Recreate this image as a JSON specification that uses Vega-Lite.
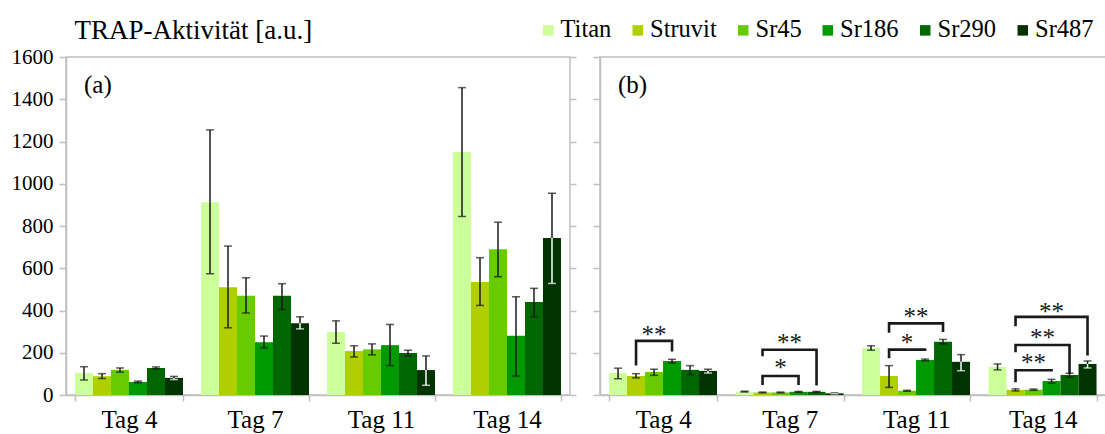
{
  "$schema": "https://vega.github.io/schema/vega-lite/v6.json",
  "padding": {"left": 10, "top": 15, "right": 0, "bottom": 0},
  "spacing": 30,
  "bounds": "flush",
  "background": "white",
  "datasets": {
    "barsA": [
      {"tag": "Tag 4", "series": "Titan", "value": 104, "lo": 71, "hi": 134},
      {"tag": "Tag 4", "series": "Struvit", "value": 89, "lo": 78, "hi": 101},
      {"tag": "Tag 4", "series": "Sr45", "value": 119, "lo": 108, "hi": 128},
      {"tag": "Tag 4", "series": "Sr186", "value": 62, "lo": 58, "hi": 66},
      {"tag": "Tag 4", "series": "Sr290", "value": 128, "lo": 123, "hi": 133},
      {"tag": "Tag 4", "series": "Sr487", "value": 81, "lo": 73, "hi": 88},
      {"tag": "Tag 7", "series": "Titan", "value": 912, "lo": 574, "hi": 1255},
      {"tag": "Tag 7", "series": "Struvit", "value": 510, "lo": 318, "hi": 705},
      {"tag": "Tag 7", "series": "Sr45", "value": 470, "lo": 388, "hi": 555},
      {"tag": "Tag 7", "series": "Sr186", "value": 250, "lo": 223, "hi": 279},
      {"tag": "Tag 7", "series": "Sr290", "value": 470, "lo": 405, "hi": 527},
      {"tag": "Tag 7", "series": "Sr487", "value": 340, "lo": 313, "hi": 370},
      {"tag": "Tag 11", "series": "Titan", "value": 298, "lo": 245, "hi": 351},
      {"tag": "Tag 11", "series": "Struvit", "value": 208, "lo": 180, "hi": 233},
      {"tag": "Tag 11", "series": "Sr45", "value": 216, "lo": 190, "hi": 242},
      {"tag": "Tag 11", "series": "Sr186", "value": 236, "lo": 139, "hi": 334},
      {"tag": "Tag 11", "series": "Sr290", "value": 199, "lo": 185, "hi": 212},
      {"tag": "Tag 11", "series": "Sr487", "value": 118, "lo": 46, "hi": 185},
      {"tag": "Tag 14", "series": "Titan", "value": 1150, "lo": 845, "hi": 1455},
      {"tag": "Tag 14", "series": "Struvit", "value": 535, "lo": 424, "hi": 650},
      {"tag": "Tag 14", "series": "Sr45", "value": 690, "lo": 560, "hi": 818},
      {"tag": "Tag 14", "series": "Sr186", "value": 280, "lo": 90, "hi": 465},
      {"tag": "Tag 14", "series": "Sr290", "value": 440, "lo": 370, "hi": 505},
      {"tag": "Tag 14", "series": "Sr487", "value": 743, "lo": 528, "hi": 955}
    ],
    "barsB": [
      {"tag": "Tag 4", "series": "Titan", "value": 104, "lo": 77, "hi": 127},
      {"tag": "Tag 4", "series": "Struvit", "value": 90, "lo": 81, "hi": 101},
      {"tag": "Tag 4", "series": "Sr45", "value": 109, "lo": 93, "hi": 122},
      {"tag": "Tag 4", "series": "Sr186", "value": 161, "lo": 152, "hi": 169},
      {"tag": "Tag 4", "series": "Sr290", "value": 119, "lo": 96, "hi": 139},
      {"tag": "Tag 4", "series": "Sr487", "value": 114, "lo": 104, "hi": 122},
      {"tag": "Tag 7", "series": "Titan", "value": 16, "lo": 14, "hi": 18},
      {"tag": "Tag 7", "series": "Struvit", "value": 12, "lo": 10, "hi": 14},
      {"tag": "Tag 7", "series": "Sr45", "value": 12, "lo": 10, "hi": 14},
      {"tag": "Tag 7", "series": "Sr186", "value": 15, "lo": 13, "hi": 17},
      {"tag": "Tag 7", "series": "Sr290", "value": 15, "lo": 13, "hi": 17},
      {"tag": "Tag 7", "series": "Sr487", "value": 8, "lo": 6, "hi": 10},
      {"tag": "Tag 11", "series": "Titan", "value": 223, "lo": 212, "hi": 233},
      {"tag": "Tag 11", "series": "Struvit", "value": 90, "lo": 36, "hi": 139},
      {"tag": "Tag 11", "series": "Sr45", "value": 20, "lo": 18, "hi": 22},
      {"tag": "Tag 11", "series": "Sr186", "value": 166, "lo": 162, "hi": 170},
      {"tag": "Tag 11", "series": "Sr290", "value": 252, "lo": 242, "hi": 263},
      {"tag": "Tag 11", "series": "Sr487", "value": 157, "lo": 115, "hi": 191},
      {"tag": "Tag 14", "series": "Titan", "value": 133, "lo": 119, "hi": 147},
      {"tag": "Tag 14", "series": "Struvit", "value": 24, "lo": 19, "hi": 29},
      {"tag": "Tag 14", "series": "Sr45", "value": 25, "lo": 22, "hi": 28},
      {"tag": "Tag 14", "series": "Sr186", "value": 66, "lo": 56, "hi": 74},
      {"tag": "Tag 14", "series": "Sr290", "value": 95, "lo": 84, "hi": 103},
      {"tag": "Tag 14", "series": "Sr487", "value": 147, "lo": 128, "hi": 161}
    ],
    "brackets": [
      {"id": 1, "tag": "Tag 4", "series": "Struvit", "value": 146, "ord": 0},
      {"id": 1, "tag": "Tag 4", "series": "Struvit", "value": 256, "ord": 1},
      {"id": 1, "tag": "Tag 4", "series": "Sr186", "value": 256, "ord": 2},
      {"id": 1, "tag": "Tag 4", "series": "Sr186", "value": 212, "ord": 3},
      {"id": 2, "tag": "Tag 7", "series": "Struvit", "value": 54, "ord": 0},
      {"id": 2, "tag": "Tag 7", "series": "Struvit", "value": 90, "ord": 1},
      {"id": 2, "tag": "Tag 7", "series": "Sr186", "value": 90, "ord": 2},
      {"id": 2, "tag": "Tag 7", "series": "Sr186", "value": 54, "ord": 3},
      {"id": 3, "tag": "Tag 7", "series": "Struvit", "value": 190, "ord": 0},
      {"id": 3, "tag": "Tag 7", "series": "Struvit", "value": 214, "ord": 1},
      {"id": 3, "tag": "Tag 7", "series": "Sr290", "value": 214, "ord": 2},
      {"id": 3, "tag": "Tag 7", "series": "Sr290", "value": 51, "ord": 3},
      {"id": 4, "tag": "Tag 11", "series": "Struvit", "value": 180, "ord": 0},
      {"id": 4, "tag": "Tag 11", "series": "Struvit", "value": 215, "ord": 1},
      {"id": 4, "tag": "Tag 11", "series": "Sr186", "value": 215, "ord": 2},
      {"id": 5, "tag": "Tag 11", "series": "Struvit", "value": 301, "ord": 0},
      {"id": 5, "tag": "Tag 11", "series": "Struvit", "value": 339, "ord": 1},
      {"id": 5, "tag": "Tag 11", "series": "Sr290", "value": 339, "ord": 2},
      {"id": 5, "tag": "Tag 11", "series": "Sr290", "value": 304, "ord": 3},
      {"id": 6, "tag": "Tag 14", "series": "Struvit", "value": 66, "ord": 0},
      {"id": 6, "tag": "Tag 14", "series": "Struvit", "value": 117, "ord": 1},
      {"id": 6, "tag": "Tag 14", "series": "Sr186", "value": 117, "ord": 2},
      {"id": 7, "tag": "Tag 14", "series": "Struvit", "value": 209, "ord": 0},
      {"id": 7, "tag": "Tag 14", "series": "Struvit", "value": 237, "ord": 1},
      {"id": 7, "tag": "Tag 14", "series": "Sr290", "value": 237, "ord": 2},
      {"id": 7, "tag": "Tag 14", "series": "Sr290", "value": 106, "ord": 3},
      {"id": 8, "tag": "Tag 14", "series": "Struvit", "value": 332, "ord": 0},
      {"id": 8, "tag": "Tag 14", "series": "Struvit", "value": 370, "ord": 1},
      {"id": 8, "tag": "Tag 14", "series": "Sr487", "value": 370, "ord": 2},
      {"id": 8, "tag": "Tag 14", "series": "Sr487", "value": 193, "ord": 3}
    ],
    "starsOnBar": [
      {"tag": "Tag 4", "series": "Sr45", "value": 247, "label": "**"},
      {"tag": "Tag 7", "series": "Sr45", "value": 88, "label": "*"},
      {"tag": "Tag 11", "series": "Sr45", "value": 209, "label": "*"},
      {"tag": "Tag 14", "series": "Sr45", "value": 112, "label": "**"},
      {"tag": "Tag 14", "series": "Sr186", "value": 356, "label": "**"}
    ],
    "starsBetween": [
      {"tag": "Tag 7", "series": "Sr45", "value": 209, "label": "**"},
      {"tag": "Tag 11", "series": "Sr45", "value": 330, "label": "**"},
      {"tag": "Tag 14", "series": "Sr45", "value": 230, "label": "**"}
    ],
    "panelLabels": [
      {"panel": "a", "tag": "Tag 4", "series": "Titan", "value": 1467, "label": "(a)"},
      {"panel": "b", "tag": "Tag 4", "series": "Titan", "value": 1467, "label": "(b)"}
    ]
  },
  "hconcat": [
    {
      "width": 504,
      "height": 338,
      "encoding": {
        "x": {"field": "tag", "type": "nominal", "title": null,
          "scale": {"domain": ["Tag 4", "Tag 7", "Tag 11", "Tag 14"], "paddingInner": 0.143, "paddingOuter": 0.0715},
          "axis": {"labelAngle": 0, "tickBand": "extent", "tickSize": 6, "labelPadding": 6, "labelFontSize": 25, "labelFont": "Liberation Serif"}},
        "xOffset": {"field": "series", "type": "nominal",
          "scale": {"domain": ["Titan", "Struvit", "Sr45", "Sr186", "Sr290", "Sr487"], "paddingInner": 0, "paddingOuter": 0}}
      },
      "layer": [
        {
          "data": {"name": "barsA"},
          "mark": {"type": "bar"},
          "encoding": {
            "y": {"field": "value", "type": "quantitative",
              "scale": {"domain": [0, 1600], "nice": false},
              "axis": {"orient": "left", "values": [0, 200, 400, 600, 800, 1000, 1200, 1400, 1600], "format": "d", "tickSize": 7, "labelPadding": 6, "labelFontSize": 21, "labelFont": "Liberation Serif",
                "title": "TRAP-Aktivität [a.u.]", "titleAngle": 0, "titleAlign": "left", "titleBaseline": "alphabetic", "titleX": 8, "titleY": -19, "titleFontSize": 27, "titleFontWeight": "normal", "titleFont": "Liberation Serif", "titleColor": "black"}},
            "color": {"field": "series", "type": "nominal",
              "scale": {"domain": ["Titan", "Struvit", "Sr45", "Sr186", "Sr290", "Sr487"], "range": ["#ccff99", "#afcf00", "#66cc00", "#009900", "#006600", "#003300"]},
              "legend": {"orient": "none", "direction": "horizontal", "legendX": 470, "legendY": -39, "title": null, "symbolType": "square", "symbolSize": 110, "symbolStrokeWidth": 0, "labelFontSize": 24.5, "labelFont": "Liberation Serif", "labelColor": "black", "labelOffset": 0, "columnPadding": 13.5, "padding": 0}}
          }
        },
        {
          "data": {"name": "barsA"},
          "mark": {"type": "rule", "color": "#1a1a1a", "strokeWidth": 1.5},
          "encoding": {"y": {"field": "value", "type": "quantitative", "axis": null}, "y2": {"field": "hi"}}
        },
        {
          "data": {"name": "barsA"},
          "mark": {"type": "rule", "strokeWidth": 1.5},
          "encoding": {"y": {"field": "lo", "type": "quantitative", "axis": null}, "y2": {"field": "value"},
            "color": {"condition": {"test": "datum.series === 'Sr487'", "value": "#ffffff"}, "value": "#1a1a1a"}}
        },
        {
          "data": {"name": "barsA"},
          "mark": {"type": "tick", "color": "#1a1a1a", "size": 8, "thickness": 1.5},
          "encoding": {"y": {"field": "hi", "type": "quantitative", "axis": null}}
        },
        {
          "data": {"name": "barsA"},
          "mark": {"type": "tick", "size": 8, "thickness": 1.5},
          "encoding": {"y": {"field": "lo", "type": "quantitative", "axis": null},
            "color": {"condition": {"test": "datum.series === 'Sr487'", "value": "#ffffff"}, "value": "#1a1a1a"}}
        },
        {
          "data": {"name": "panelLabels"},
          "transform": [{"filter": "datum.panel === 'a'"}],
          "mark": {"type": "text", "align": "left", "baseline": "middle", "fontSize": 25, "font": "Liberation Serif", "color": "black"},
          "encoding": {"y": {"field": "value", "type": "quantitative", "axis": null}, "text": {"field": "label"}}
        },
        {
          "data": {"name": "barsA"},
          "mark": {"type": "point", "opacity": 0},
          "encoding": {"y": {"field": "value", "type": "quantitative",
            "axis": {"orient": "right", "labels": false, "domain": false, "title": null, "tickSize": 6, "values": [0, 200, 400, 600, 800, 1000, 1200, 1400, 1600]}}}
        }
      ],
      "resolve": {"axis": {"y": "independent"}}
    },
    {
      "width": 506,
      "height": 338,
      "encoding": {
        "x": {"field": "tag", "type": "nominal", "title": null,
          "scale": {"domain": ["Tag 4", "Tag 7", "Tag 11", "Tag 14"], "paddingInner": 0.143, "paddingOuter": 0.0715},
          "axis": {"labelAngle": 0, "tickBand": "extent", "tickSize": 6, "labelPadding": 6, "labelFontSize": 25, "labelFont": "Liberation Serif"}},
        "xOffset": {"field": "series", "type": "nominal",
          "scale": {"domain": ["Titan", "Struvit", "Sr45", "Sr186", "Sr290", "Sr487"], "paddingInner": 0, "paddingOuter": 0}}
      },
      "layer": [
        {
          "data": {"name": "barsB"},
          "mark": {"type": "bar"},
          "encoding": {
            "y": {"field": "value", "type": "quantitative",
              "scale": {"domain": [0, 1600], "nice": false},
              "axis": {"values": [0, 200, 400, 600, 800, 1000, 1200, 1400, 1600], "labels": false, "tickSize": 7, "title": null}},
            "color": {"field": "series", "type": "nominal",
              "scale": {"domain": ["Titan", "Struvit", "Sr45", "Sr186", "Sr290", "Sr487"], "range": ["#ccff99", "#afcf00", "#66cc00", "#009900", "#006600", "#003300"]},
              "legend": null}
          }
        },
        {
          "data": {"name": "barsB"},
          "mark": {"type": "rule", "color": "#1a1a1a", "strokeWidth": 1.5},
          "encoding": {"y": {"field": "value", "type": "quantitative"}, "y2": {"field": "hi"}}
        },
        {
          "data": {"name": "barsB"},
          "mark": {"type": "rule", "strokeWidth": 1.5},
          "encoding": {"y": {"field": "lo", "type": "quantitative"}, "y2": {"field": "value"},
            "color": {"condition": {"test": "datum.series === 'Sr487'", "value": "#ffffff"}, "value": "#1a1a1a"}}
        },
        {
          "data": {"name": "barsB"},
          "mark": {"type": "tick", "color": "#1a1a1a", "size": 8, "thickness": 1.5},
          "encoding": {"y": {"field": "hi", "type": "quantitative"}}
        },
        {
          "data": {"name": "barsB"},
          "mark": {"type": "tick", "size": 8, "thickness": 1.5},
          "encoding": {"y": {"field": "lo", "type": "quantitative"},
            "color": {"condition": {"test": "datum.series === 'Sr487'", "value": "#ffffff"}, "value": "#1a1a1a"}}
        },
        {
          "data": {"name": "brackets"},
          "mark": {"type": "line", "color": "#1a1a1a", "strokeWidth": 2.6, "strokeCap": "square", "strokeJoin": "miter"},
          "encoding": {"y": {"field": "value", "type": "quantitative"}, "detail": {"field": "id", "type": "nominal"}, "order": {"field": "ord", "type": "quantitative"}}
        },
        {
          "data": {"name": "starsOnBar"},
          "mark": {"type": "text", "align": "center", "baseline": "alphabetic", "fontSize": 25, "font": "Liberation Serif", "color": "#1a1a1a"},
          "encoding": {"y": {"field": "value", "type": "quantitative"}, "text": {"field": "label"}}
        },
        {
          "data": {"name": "starsBetween"},
          "mark": {"type": "text", "align": "center", "baseline": "alphabetic", "fontSize": 25, "font": "Liberation Serif", "color": "#1a1a1a", "dx": 9},
          "encoding": {"y": {"field": "value", "type": "quantitative"}, "text": {"field": "label"}}
        },
        {
          "data": {"name": "panelLabels"},
          "transform": [{"filter": "datum.panel === 'b'"}],
          "mark": {"type": "text", "align": "left", "baseline": "middle", "fontSize": 25, "font": "Liberation Serif", "color": "black"},
          "encoding": {"y": {"field": "value", "type": "quantitative"}, "text": {"field": "label"}}
        }
      ]
    }
  ],
  "config": {
    "font": "Liberation Serif",
    "view": {"stroke": "#bfbfbf", "strokeWidth": 1.5},
    "axis": {"domainColor": "#bfbfbf", "tickColor": "#bfbfbf", "domainWidth": 1.5, "tickWidth": 1.5, "labelColor": "black", "labelFont": "Liberation Serif", "grid": false},
    "legend": {"labelFont": "Liberation Serif"}
  }
}
